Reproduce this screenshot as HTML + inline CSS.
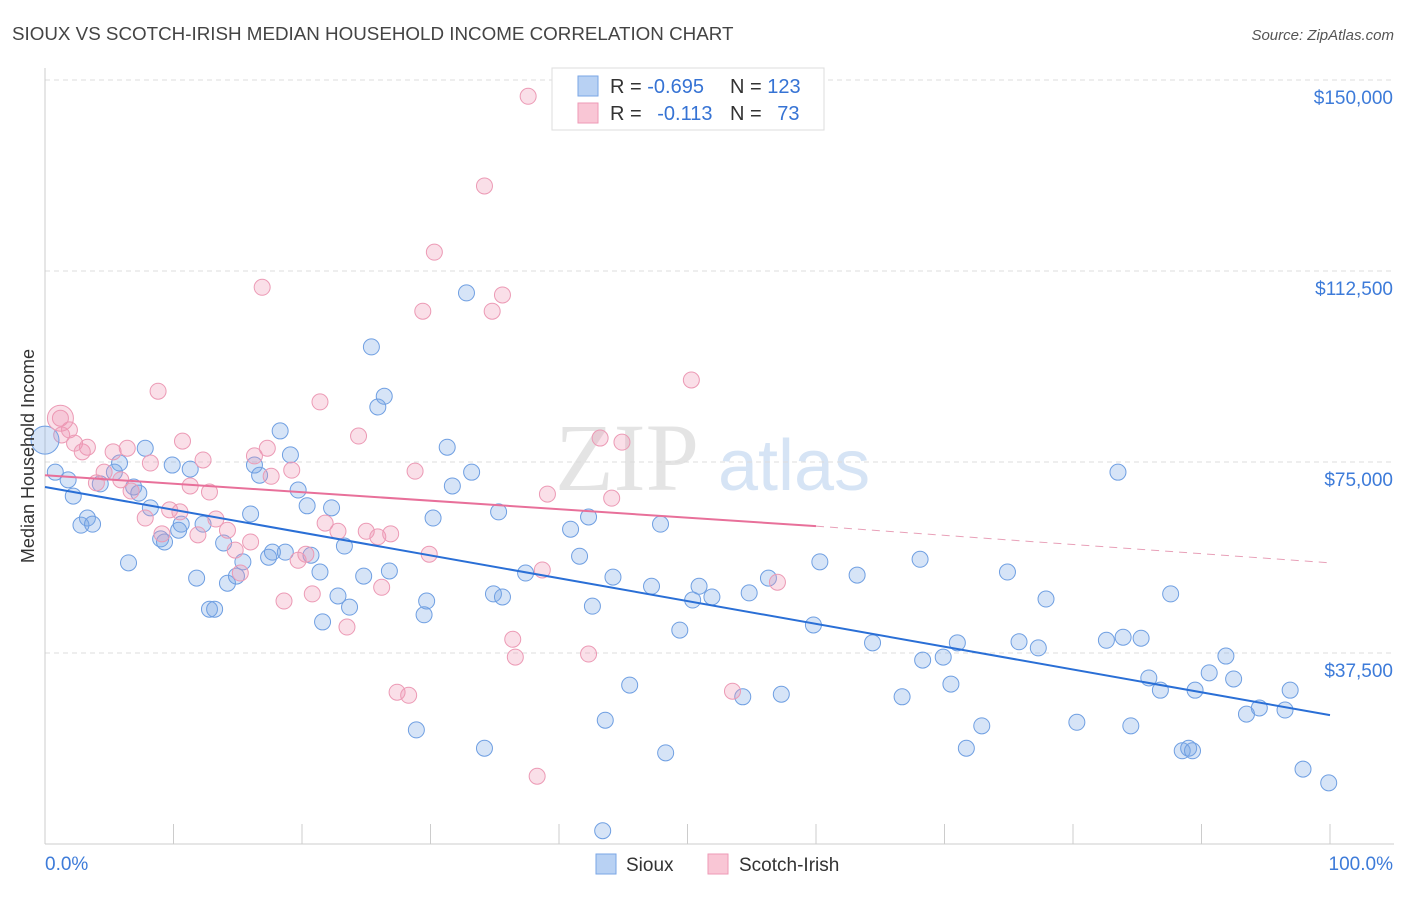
<!DOCTYPE html>
<html><head><meta charset="utf-8">
<style>
body{margin:0;background:#fff;font-family:"Liberation Sans",sans-serif;}
svg text{font-family:"Liberation Sans",sans-serif;}
</style></head>
<body>
<svg id="chart" width="1406" height="892" xmlns="http://www.w3.org/2000/svg">
<text x="12" y="40" font-size="18.8" fill="#444">SIOUX VS SCOTCH-IRISH MEDIAN HOUSEHOLD INCOME CORRELATION CHART</text>
<text x="1394" y="40" font-size="15" fill="#555" font-style="italic" text-anchor="end">Source: ZipAtlas.com</text>
<g>
<text x="555" y="490" font-size="96" fill="#e4e4e4" font-family="Liberation Serif" style="font-family:'Liberation Serif',serif">ZIP</text>
<text x="718" y="490" font-size="72" fill="#d6e4f5">atlas</text>
</g>
<g id="grid"></g>
<g id="axes"></g>
<g id="marks"></g>
<text transform="translate(34,456) rotate(-90)" font-size="18" fill="#333" text-anchor="middle">Median Household Income</text>
<g>
<rect x="552" y="68" width="272" height="62" fill="#fff" stroke="#ddd"/>
<rect x="578" y="76" width="20" height="20" fill="#b8d1f3" stroke="#7aa6e6"/>
<rect x="578" y="103" width="20" height="20" fill="#f9c6d5" stroke="#ee9ab6"/>
<text x="610" y="93" font-size="20" fill="#333">R = <tspan fill="#3673d4">-0.695</tspan></text>
<text x="730" y="93" font-size="20" fill="#333">N = <tspan fill="#3673d4">123</tspan></text>
<text x="610" y="120" font-size="20" fill="#333">R = <tspan fill="#3673d4" dx="10">-0.113</tspan></text>
<text x="730" y="120" font-size="20" fill="#333">N = <tspan fill="#3673d4" dx="10">73</tspan></text>
</g>
<g>
<rect x="596" y="854" width="20" height="20" fill="#b8d1f3" stroke="#7aa6e6"/>
<text x="626" y="871" font-size="19" fill="#333">Sioux</text>
<rect x="708" y="854" width="20" height="20" fill="#f9c6d5" stroke="#ee9ab6"/>
<text x="739" y="871" font-size="19" fill="#333">Scotch-Irish</text>
</g>
</svg>
<script>
const yTicks=[37500,75000,112500,150000];
const yTickLabels=["$37,500","$75,000","$112,500","$150,000"];
const xTickLabels=["0.0%","100.0%"];
const siouxX=[0.8,1.8,2.2,2.8,3.3,3.7,4.3,5.4,5.8,6.5,6.9,7.3,7.8,8.2,9.0,9.3,9.9,10.4,10.6,11.3,11.8,12.3,12.8,13.2,13.9,14.2,14.9,15.4,16.0,16.3,16.7,17.4,17.7,18.3,18.7,19.1,19.7,20.4,20.7,21.4,21.6,22.3,22.8,23.3,23.7,24.8,25.4,25.9,26.4,26.8,28.9,29.5,29.7,30.2,31.3,31.7,32.8,33.2,34.2,34.9,35.3,35.6,37.4,40.9,41.6,42.3,42.6,43.6,44.2,43.4,45.5,47.2,47.9,48.3,49.4,50.4,50.9,51.9,54.3,54.8,56.3,57.3,59.8,60.3,63.2,64.4,66.7,68.1,68.3,69.9,70.5,71.0,71.7,72.9,74.9,75.8,77.3,77.9,80.3,82.6,83.5,83.9,84.5,85.3,85.9,86.8,87.6,88.5,89.0,89.3,89.5,90.6,91.9,92.5,93.5,94.5,96.5,96.9,97.9,99.9];
const siouxY=[73.0,71.5,68.3,62.6,64.0,62.8,70.7,73.0,74.8,55.2,70.1,68.9,77.7,66.0,59.9,59.3,74.4,61.6,62.8,73.6,52.2,62.8,46.1,46.1,59.1,51.2,52.6,55.4,64.8,74.4,72.4,56.3,57.3,81.1,57.3,76.4,69.5,66.4,56.7,53.4,43.6,66.0,48.7,58.5,46.5,52.6,97.6,85.8,87.9,53.6,22.4,45.0,47.7,64.0,77.9,70.3,108.2,73.0,18.8,49.1,65.2,48.5,53.2,61.8,56.5,64.2,46.7,24.3,52.4,2.6,31.2,50.6,62.8,17.9,42.0,47.9,50.6,48.5,28.9,49.3,52.2,29.4,43.0,55.4,52.8,39.5,28.9,55.9,36.1,36.7,31.4,39.5,18.8,23.2,53.4,39.7,38.5,48.1,23.9,40.0,73.0,40.6,23.2,40.4,32.6,30.2,49.1,18.3,18.8,18.3,30.2,33.6,36.9,32.4,25.5,26.7,26.3,30.2,14.7,12.0];
const scotchX=[1.2,1.3,1.9,2.3,2.9,3.3,4.0,4.6,5.3,5.9,6.4,6.7,7.8,8.2,8.8,9.1,9.7,10.5,10.7,11.3,11.9,12.3,12.8,13.3,14.2,14.8,15.2,16.0,16.3,16.9,17.3,17.6,18.6,19.2,19.7,20.3,20.8,21.4,21.8,22.8,23.5,24.4,25.0,25.9,26.2,26.9,27.4,28.3,28.8,29.4,29.9,30.3,34.2,34.8,35.6,36.4,36.6,37.6,38.3,38.7,39.1,42.3,43.2,44.1,44.9,50.3,53.5,57.0];
const scotchY=[83.6,80.3,81.3,78.7,77.0,77.9,70.9,73.0,77.0,71.5,77.7,69.3,64.0,74.8,88.9,60.9,65.6,65.2,79.1,70.3,60.7,75.4,69.1,63.8,61.6,57.7,53.2,59.3,76.2,109.3,77.7,72.2,47.7,73.4,55.7,56.9,49.1,86.8,63.0,61.4,42.6,80.1,61.4,60.3,50.4,60.9,29.8,29.2,73.2,104.6,56.9,116.2,129.2,104.6,107.8,40.2,36.7,146.8,13.3,53.8,68.7,37.3,79.7,67.9,78.9,91.1,30.0,51.4];
const siouxTrend=[[0,70.1],[100,25.3]];
const scotchTrend=[[0,72.4],[60,62.4],[100,55.2]];

const NS="http://www.w3.org/2000/svg";
const X0=45,X1=1330,YB=844,PXK=191/37.5;
const sx=v=>X0+(X1-X0)*v/100;
const sy=v=>YB-v*PXK;
function mk(tag,attrs,parent){const e=document.createElementNS(NS,tag);for(const k in attrs)e.setAttribute(k,attrs[k]);parent.appendChild(e);return e;}
const grid=document.getElementById('grid'),axes=document.getElementById('axes'),marks=document.getElementById('marks');
yTicks.forEach((t,i)=>{
 const g=mk('line',{x1:45,x2:1394,y1:sy(t/1000),y2:sy(t/1000),stroke:'#ddd','stroke-dasharray':'5,4'},grid);
 
 
 const l=mk('text',{x:1393,y:sy(t/1000)+24,'font-size':19,fill:'#3d7bd9','text-anchor':'end'},axes);
 l.textContent=yTickLabels[i];
 
 
});
const ax=mk('line',{x1:45,x2:45,y1:68,y2:YB,stroke:'#ccc'},axes);


const bx=mk('line',{x1:45,x2:1394,y1:YB,y2:YB,stroke:'#ccc'},axes);


for(let i=0;i<=10;i++){const t=mk('line',{x1:sx(i*10),x2:sx(i*10),y1:YB,y2:YB-20,stroke:'#ccc'},axes);
 
 }
const xl0=mk('text',{x:45,y:870,'font-size':19,fill:'#3d7bd9'},axes);xl0.textContent=xTickLabels[0];


const xl1=mk('text',{x:1393,y:870,'font-size':19,fill:'#3d7bd9','text-anchor':'end'},axes);xl1.textContent=xTickLabels[1];



function pts(xs,ys,fill,stroke,name){xs.forEach((x,i)=>{const c=mk('circle',{cx:sx(x),cy:sy(ys[i]),r:8,fill:fill,stroke:stroke,'stroke-width':1},marks);
 
 });}
pts(siouxX,siouxY,'rgba(120,165,230,0.3)','#6f9fe2','sioux-point');
pts(scotchX,scotchY,'rgba(240,150,180,0.3)','#ec9ab5','scotch-irish-point');
const big1=mk('circle',{cx:sx(0),cy:sy(79.3),r:14,fill:'rgba(120,165,230,0.3)',stroke:'#6f9fe2'},marks);


const big2=mk('circle',{cx:sx(1.2),cy:sy(83.6),r:13,fill:'rgba(240,150,180,0.3)',stroke:'#ec9ab5'},marks);


const t1=mk('line',{x1:sx(siouxTrend[0][0]),y1:sy(siouxTrend[0][1]),x2:sx(siouxTrend[1][0]),y2:sy(siouxTrend[1][1]),stroke:'#2a6fd6','stroke-width':2},marks);


const t2=mk('line',{x1:sx(scotchTrend[0][0]),y1:sy(scotchTrend[0][1]),x2:sx(scotchTrend[1][0]),y2:sy(scotchTrend[1][1]),stroke:'#e8709a','stroke-width':2},marks);


const t3=mk('line',{x1:sx(scotchTrend[1][0]),y1:sy(scotchTrend[1][1]),x2:sx(scotchTrend[2][0]),y2:sy(scotchTrend[2][1]),stroke:'#e8a0b8','stroke-width':1,'stroke-dasharray':'8,6'},marks);


</script>
</body></html>
